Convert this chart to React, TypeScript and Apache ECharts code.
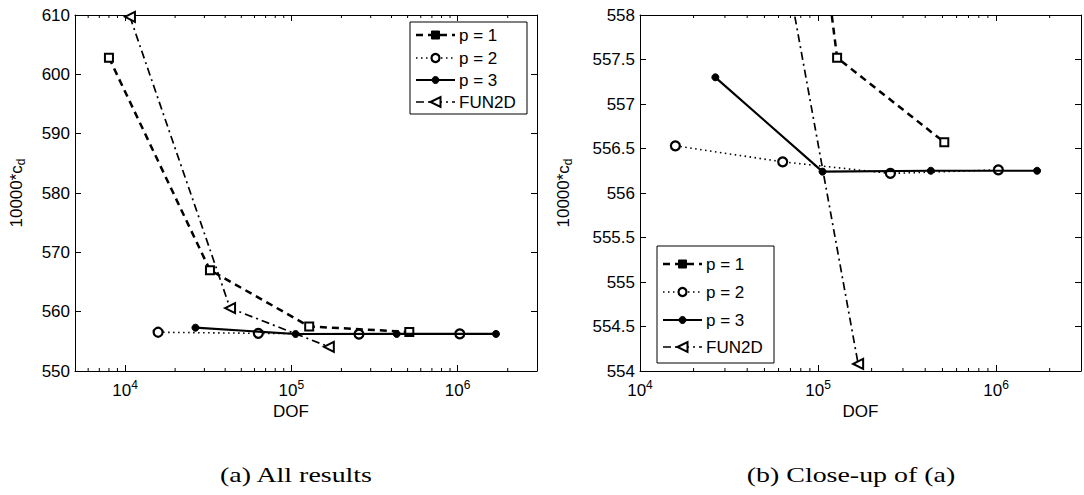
import React, { useEffect, useRef } from "react";
import * as echarts from "echarts";

// ---- data ----
const dofP1 = [8000, 32400, 128000, 512000];
const cdP1 = [602.8, 567.0, 557.52, 556.57];
const dofP2 = [15800, 63300, 255000, 1030000];
const cdP2 = [556.53, 556.35, 556.22, 556.26];
const dofP3 = [26500, 106000, 430000, 1700000];
const cdP3 = [557.3, 556.24, 556.25, 556.25];
const dofFun = [10700, 42800, 168000];
const cdFun = [609.7, 560.6, 554.08];

const seriesNames = ["p = 1", "p = 2", "p = 3", "FUN2D"];

// minor (log) tick positions
const minorTicksA = [6000, 7000, 8000, 9000, 20000, 30000, 40000, 50000, 60000, 70000, 80000, 90000, 200000, 300000, 400000, 500000, 600000, 700000, 800000, 900000, 2000000];
const minorTicksB = [20000, 30000, 40000, 50000, 60000, 70000, 80000, 90000, 200000, 300000, 400000, 500000, 600000, 700000, 800000, 900000, 2000000];

const FONT = "'Liberation Sans', Arial, sans-serif";
const SERIF = "'Liberation Serif', 'Times New Roman', serif";
const LEFT_TRI = "path://M0,5L10,0L10,10Z";

const lineDefs = [
  { dof: dofP1, cd: cdP1, symbol: "rect", size: 8, fill: "#fff", bw: 2, lw: 2.5, dash: [7, 5] },
  { dof: dofP2, cd: cdP2, symbol: "circle", size: 9, fill: "#fff", bw: 2.2, lw: 1.6, dash: [1.5, 3.5] },
  { dof: dofP3, cd: cdP3, symbol: "circle", size: 7, fill: "#000", bw: 1, lw: 2.2, dash: "solid" },
  { dof: dofFun, cd: cdFun, symbol: LEFT_TRI, size: 10, fill: "#fff", bw: 2, lw: 1.7, dash: [8, 4, 2, 4] },
];

function logLabel(v: number) {
  const e = Math.log10(v);
  const r = Math.round(e);
  if (Math.abs(e - r) > 1e-6) return "";
  return "10{sup|" + r + "}";
}

function xAxes(gridIndex: number, min: number, max: number, namePad: number[]) {
  const common = {
    gridIndex,
    type: "log",
    logBase: 10,
    min,
    max,
    axisLine: { show: true, lineStyle: { color: "#000", width: 1 } },
    axisTick: { show: true, inside: true, length: 6, lineStyle: { color: "#000" } },
    splitLine: { show: false },
    minorTick: { show: false },
  };
  return [
    {
      ...common,
      position: "bottom",
      name: "DOF",
      nameLocation: "middle",
      nameGap: 25,
      nameTextStyle: { fontFamily: FONT, fontSize: 17, color: "#000", padding: namePad },
      axisLabel: {
        show: true,
        margin: 8,
        fontFamily: FONT,
        fontSize: 17,
        color: "#000",
        formatter: logLabel,
        rich: { sup: { fontFamily: FONT, fontSize: 12, color: "#000", padding: [0, 0, 10, 0] } },
      },
    },
    { ...common, position: "top", axisLabel: { show: false } },
  ];
}

function yAxes(gridIndex: number, min: number, max: number, interval: number, nameGap: number) {
  const common = {
    gridIndex,
    type: "value",
    min,
    max,
    interval,
    axisLine: { show: true, lineStyle: { color: "#000", width: 1 } },
    axisTick: { show: true, inside: true, length: 6, lineStyle: { color: "#000" } },
    splitLine: { show: false },
  };
  return [
    {
      ...common,
      position: "left",
      name: "10000*c{sub|d}",
      nameLocation: "middle",
      nameGap,
      nameTextStyle: {
        fontFamily: FONT,
        fontSize: 17,
        color: "#000",
        rich: { sub: { fontFamily: FONT, fontSize: 12, color: "#000", padding: [9, 0, 0, 0] } },
      },
      axisLabel: { show: true, margin: 5, fontFamily: FONT, fontSize: 17, color: "#000" },
    },
    { ...common, position: "right", axisLabel: { show: false } },
  ];
}

function plotSeries(xIdx: number, yIdx: number, minor: number[], yMin: number) {
  const out: any[] = lineDefs.map((d, i) => ({
    type: "line",
    name: seriesNames[i],
    xAxisIndex: xIdx,
    yAxisIndex: yIdx,
    data: d.dof.map((x, k) => [x, d.cd[k]]),
    symbol: d.symbol,
    symbolSize: d.size,
    showSymbol: true,
    clip: true,
    z: 3 + i,
    lineStyle: { color: "#000", width: d.lw, type: d.dash },
    itemStyle: { color: d.fill, borderColor: "#000", borderWidth: d.bw },
  }));
  out.push({
    type: "custom",
    xAxisIndex: xIdx,
    yAxisIndex: yIdx,
    silent: true,
    clip: false,
    data: minor.map((v) => [v, yMin]),
    renderItem: (params: any, api: any) => {
      const x = api.coord([api.value(0), api.value(1)])[0];
      const cs = params.coordSys;
      const b = cs.y + cs.height;
      return {
        type: "group",
        children: [
          { type: "line", shape: { x1: x, y1: b, x2: x, y2: b - 3 }, style: { stroke: "#000", lineWidth: 1 } },
          { type: "line", shape: { x1: x, y1: cs.y, x2: x, y2: cs.y + 3 }, style: { stroke: "#000", lineWidth: 1 } },
        ],
      };
    },
  });
  return out;
}

function legendGraphic(bx: number, by: number, bw: number, bh: number, rows: number[]) {
  const els: any[] = [
    { type: "rect", z: 100, shape: { x: bx, y: by, width: bw, height: bh }, style: { fill: "#fff", stroke: "#000", lineWidth: 1 } },
  ];
  const x1 = bx + 6;
  const x2 = bx + 45;
  const mx = (x1 + x2) / 2;
  lineDefs.forEach((d, i) => {
    const y = by + rows[i];
    els.push({
      type: "line",
      z: 101,
      shape: { x1, y1: y, x2, y2: y },
      style: { stroke: "#000", lineWidth: d.lw, lineDash: Array.isArray(d.dash) ? d.dash : null },
    });
    if (i === 0) {
      els.push({ type: "rect", z: 102, shape: { x: mx - 4, y: y - 4, width: 8, height: 8 }, style: { fill: "#000", stroke: "#000", lineWidth: 1 } });
    } else if (i === 1) {
      els.push({ type: "circle", z: 102, shape: { cx: mx, cy: y, r: 4 }, style: { fill: "#fff", stroke: "#000", lineWidth: 2.2 } });
    } else if (i === 2) {
      els.push({ type: "circle", z: 102, shape: { cx: mx, cy: y, r: 3.5 }, style: { fill: "#000", stroke: "#000", lineWidth: 1 } });
    } else {
      els.push({ type: "polygon", z: 102, shape: { points: [[mx - 5, y], [mx + 5, y - 5], [mx + 5, y + 5]] }, style: { fill: "#fff", stroke: "#000", lineWidth: 2 } });
    }
    els.push({
      type: "text",
      z: 102,
      x: bx + 49,
      y,
      style: { text: seriesNames[i], fontFamily: FONT, fontSize: 17, fill: "#000", align: "left", verticalAlign: "middle" },
    });
  });
  return els;
}

export default function App() {
  const ref = useRef<HTMLDivElement>(null);
  useEffect(() => {
    if (!ref.current) return;
    const chart = echarts.init(ref.current, undefined, { renderer: "svg" });
    const option: any = {
      animation: false,
      backgroundColor: "#fff",
      grid: [
        { left: 75, top: 15, width: 462, height: 356 },
        { left: 640, top: 15, width: 462, height: 356 },
      ],
      xAxis: [...xAxes(0, 5000, 3000000, [0, 30, 0, 0]), ...xAxes(1, 10000, 3000000, [0, 0, 0, 0])],
      yAxis: [...yAxes(0, 550, 610, 10, 48), ...yAxes(1, 554, 558, 0.5, 66)],
      series: [...plotSeries(0, 0, minorTicksA, 550), ...plotSeries(2, 2, minorTicksB, 554)],
      graphic: [
        ...legendGraphic(410, 22, 117, 92, [13, 36, 58, 80]),
        ...legendGraphic(657, 246, 117, 117, [18, 46, 74, 101]),
        {
          type: "text",
          x: 296,
          y: 475,
          scaleX: 1.33,
          style: { text: "(a) All results", fontFamily: SERIF, fontSize: 21, fill: "#000", align: "center", verticalAlign: "middle" },
        },
        {
          type: "text",
          x: 851,
          y: 475,
          scaleX: 1.33,
          style: { text: "(b) Close-up of (a)", fontFamily: SERIF, fontSize: 21, fill: "#000", align: "center", verticalAlign: "middle" },
        },
      ],
    };
    chart.setOption(option);
    return () => chart.dispose();
  }, []);
  return <div ref={ref} style={{ position: "absolute", left: 0, top: 0, width: 1084, height: 495 }} />;
}
